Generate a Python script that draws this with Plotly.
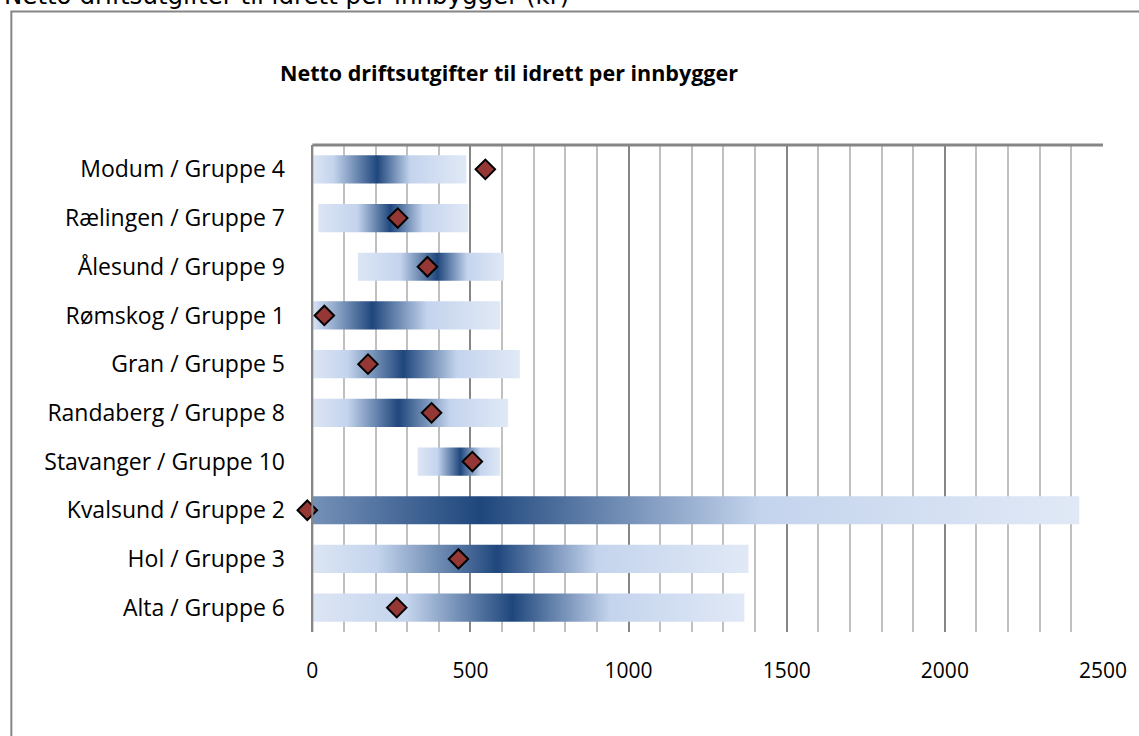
import plotly.graph_objects as go

# Kommune / KOSTRA-gruppe, fra topp til bunn
kommuner = ['Modum / Gruppe 4', 'Rælingen / Gruppe 7', 'Ålesund / Gruppe 9',
            'Rømskog / Gruppe 1', 'Gran / Gruppe 5', 'Randaberg / Gruppe 8',
            'Stavanger / Gruppe 10', 'Kvalsund / Gruppe 2', 'Hol / Gruppe 3',
            'Alta / Gruppe 6']

# gruppens spredning (kr per innbygger)
gruppe_min = [3, 19, 144, 0, 3, 3, 333, -600, 3, 3]
gruppe_q1 = [66, 141, 276, 20, 110, 110, 393, -480, 204, 298]
gruppe_median = [204, 245, 393, 188, 286, 270, 465, 528, 581, 628]
gruppe_q3 = [308, 349, 487, 361, 455, 433, 528, 1407, 895, 936]
gruppe_max = [487, 493, 606, 594, 656, 619, 594, 2425, 1379, 1366]

# kommunens egen verdi
kommune_verdi = [547, 270, 364, 38, 176, 377, 506, -16, 462, 267]

x_ticks = [0, 500, 1000, 1500, 2000, 2500]

FONT = 'Open Sans'
GRAY = '#868686'

W, H = 1139, 736
L, R, T, B = 306, 31, 145, 104
pw, ph = W - L - R, H - T - B


def px_x(p):
    return (p - L) / pw


def px_y(p):
    return (H - B - p) / ph


fig = go.Figure()

half = 0.29
for i, navn in enumerate(kommuner):
    lo, hi = gruppe_min[i], gruppe_max[i]
    span = hi - lo
    f1 = (gruppe_q1[i] - lo) / span
    fm = (gruppe_median[i] - lo) / span
    f3 = (gruppe_q3[i] - lo) / span
    x0 = max(lo, 0)  # aksen starter på 0
    fig.add_trace(go.Scatter(
        x=[x0, hi, hi, x0, x0],
        y=[i - half, i - half, i + half, i + half, i - half],
        fill='toself', mode='none',
        fillgradient=dict(type='horizontal', start=lo, stop=hi,
                          colorscale=[[0, '#dce5f4'], [f1, '#c4d4ed'],
                                      [fm, '#1f477d'], [f3, '#c4d4ed'],
                                      [1, '#e1e9f6']]),
        hoverinfo='skip', showlegend=False,
    ))

fig.add_trace(go.Scatter(
    x=kommune_verdi, y=list(range(len(kommuner))), mode='markers',
    marker=dict(symbol='diamond', size=15, color='#953735',
                line=dict(color='black', width=2)),
    cliponaxis=False, showlegend=False,
    text=kommuner, hovertemplate='%{text}: %{x}<extra></extra>',
))

fig.update_layout(
    width=W, height=H,
    margin=dict(l=L, r=R, t=T, b=B),
    paper_bgcolor='white', plot_bgcolor='white',
    font=dict(family=FONT, color='black'),
    xaxis=dict(range=[-20, 2500], tickvals=x_ticks, showgrid=True,
               gridcolor=GRAY, gridwidth=2,
               minor=dict(dtick=100, tick0=0, showgrid=True,
                          gridcolor='#c0c0c0', gridwidth=2),
               zeroline=False, showline=False,
               tickfont=dict(size=21, family=FONT), ticklabelstandoff=24),
    yaxis=dict(range=[9.5, -0.5], tickvals=list(range(len(kommuner))),
               ticktext=kommuner, showgrid=False, zeroline=False,
               showline=False,
               tickfont=dict(size=23, family=FONT), ticklabelstandoff=20),
    shapes=[
        dict(type='line', xref='x', yref='paper', x0=0, x1=2500, y0=1, y1=1,
             line=dict(color=GRAY, width=3)),
        dict(type='line', xref='x', yref='paper', x0=0, x1=0, y0=0, y1=1,
             line=dict(color=GRAY, width=2)),
        dict(type='rect', xref='paper', yref='paper',
             x0=px_x(9.5), x1=px_x(1150), y0=px_y(750), y1=px_y(11.5),
             line=dict(color=GRAY, width=2), layer='below'),
    ],
    annotations=[
        dict(text='<b>Netto driftsutgifter til idrett per innbygger</b>',
             xref='paper', yref='paper', x=px_x(510), y=px_y(72),
             xanchor='center', yanchor='middle', showarrow=False,
             font=dict(size=21.5, family=FONT)),
        dict(text='Netto driftsutgifter til idrett per innbygger (kr)',
             xref='paper', yref='paper', x=px_x(0), y=px_y(-4),
             xanchor='left', yanchor='middle', showarrow=False,
             font=dict(size=24.5, family='DejaVu Sans')),
    ],
)

# fjern standardmargen rundt figuren i nettleseren
fig.write_html('out.html', config={'displayModeBar': False},
               post_script="document.body.style.margin='0';")
